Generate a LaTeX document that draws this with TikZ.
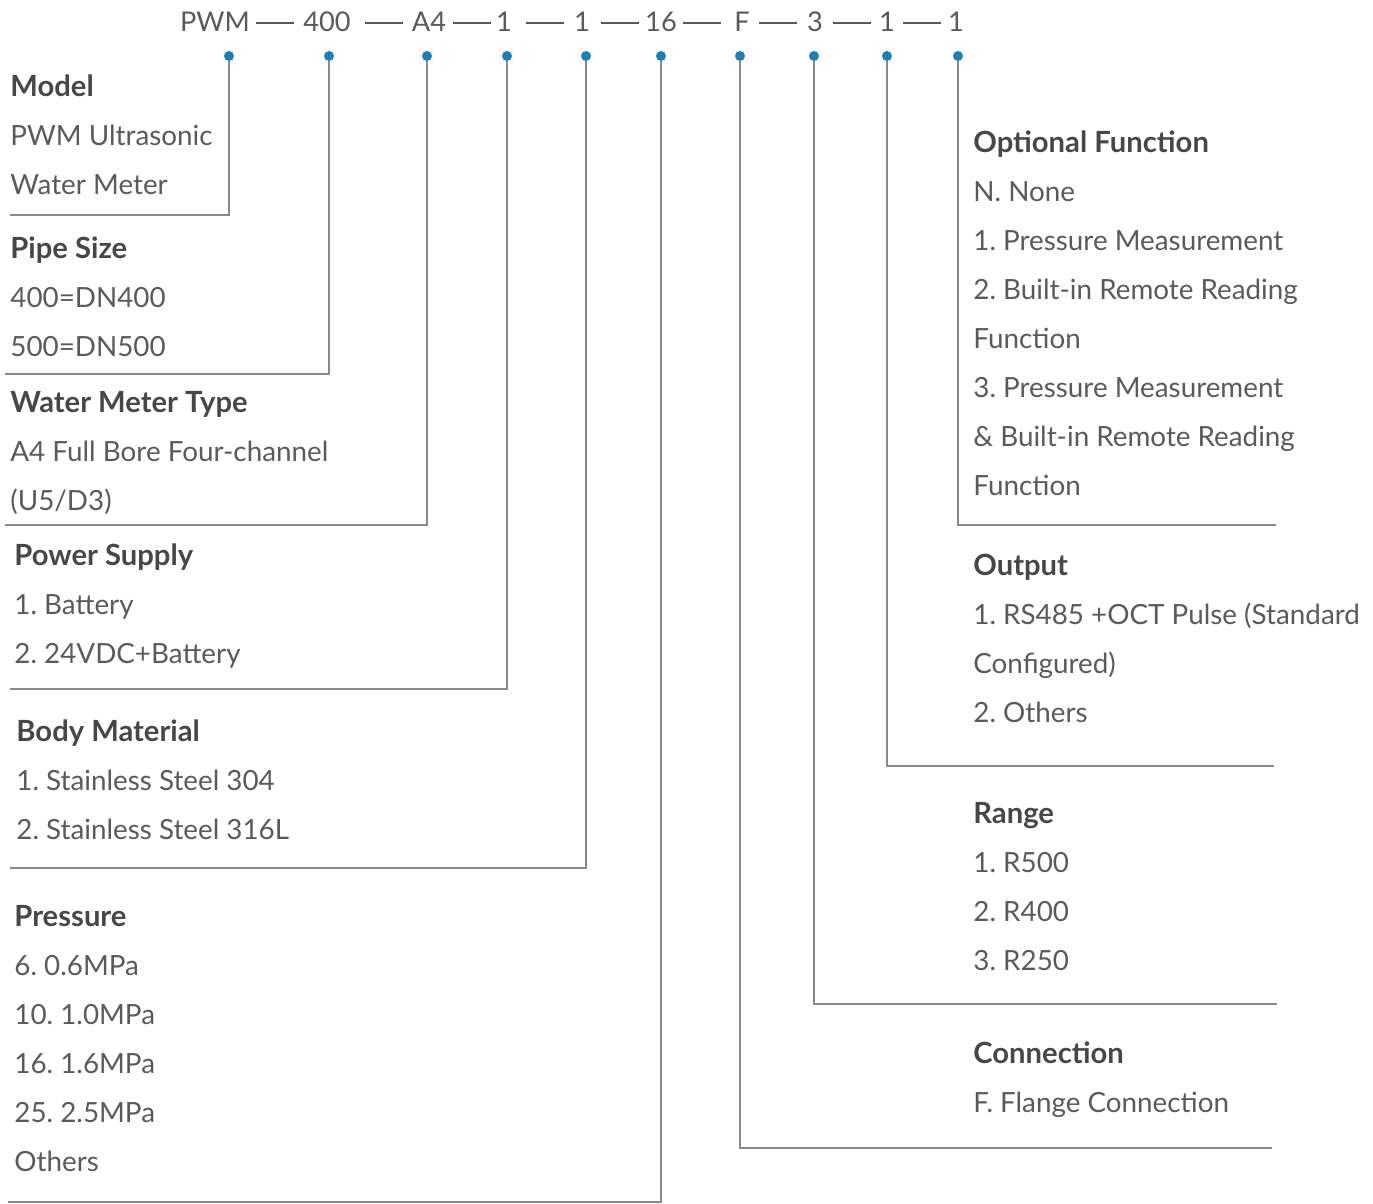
\documentclass[tikz,border=0pt]{standalone}
\usepackage{fontspec}
\setmainfont{Lato}
\usetikzlibrary{positioning}
\definecolor{txtgray}{HTML}{5A5A5A}
\definecolor{headgray}{HTML}{474747}
\definecolor{linegray}{HTML}{8A8A8A}
\definecolor{dotblue}{HTML}{1F7FB4}
\newcommand{\blockhead}[1]{{\color{headgray}\fontsize{14.6}{24.5}\selectfont\bfseries #1}}
\newcommand{\codedash}{\rule{19pt}{0.6pt}}
\frenchspacing

\begin{document}
\begin{tikzpicture}[
  x=0.5pt,y=-0.5pt,
  code/.style={font=\fontsize{13.6}{16}\selectfont,text=txtgray,inner sep=0pt},
  codesep/.style={text=txtgray,inner sep=0pt},
  dot/.style={circle,fill=dotblue,inner sep=0pt,minimum size=5pt},
  block/.style={align=left,anchor=north west,inner sep=0pt,text=txtgray,font=\fontsize{13.9}{24.5}\selectfont},
  lead/.style={draw=linegray,line width=0.8pt}
]
\useasboundingbox (0,0) rectangle (1373,1204);

% model code
\node[code] (cPWM) at (215,22) {PWM};
\node[codesep] (s1) at (275,23) {\codedash};
\node[code] (c400) at (327,22) {400};
\node[codesep] (s2) at (384,23) {\codedash};
\node[code] (cA4) at (429,22) {A4};
\node[codesep] (s3) at (472,23) {\codedash};
\node[code] (cPow) at (504,22) {1};
\node[codesep] (s4) at (545,23) {\codedash};
\node[code] (cMat) at (582,22) {1};
\node[codesep] (s5) at (620,23) {\codedash};
\node[code] (cPres) at (661,22) {16};
\node[codesep] (s6) at (702,23) {\codedash};
\node[code] (cConn) at (742,22) {F};
\node[codesep] (s7) at (778,23) {\codedash};
\node[code] (cRange) at (815,22) {3};
\node[codesep] (s8) at (852,23) {\codedash};
\node[code] (cOut) at (887,22) {1};
\node[codesep] (s9) at (922,23) {\codedash};
\node[code] (cOpt) at (956,22) {1};

\node[dot] (dPWM) at (229,56) {};
\node[dot] (d400) at (329,56) {};
\node[dot] (dA4) at (427,56) {};
\node[dot] (dPow) at (507,56) {};
\node[dot] (dMat) at (586,56) {};
\node[dot] (dPres) at (661,56) {};
\node[dot] (dConn) at (740,56) {};
\node[dot] (dRange) at (814,56) {};
\node[dot] (dOut) at (887,56) {};
\node[dot] (dOpt) at (958,56) {};

% left column
\node[block] (model) at (10,74) {\blockhead{Model}\\PWM Ultrasonic\\Water Meter};
\node[block] (pipe) at (10,236) {\blockhead{Pipe Size}\\400=DN400\\500=DN500};
\node[block] (type) at (10,391) {\blockhead{Water Meter Type}\\A4 Full Bore Four-channel\\(U5/D3)};
\node[block] (power) at (14,543) {\blockhead{Power Supply}\\1. Battery\\2. 24VDC+Battery};
\node[block] (material) at (16,719) {\blockhead{Body Material}\\1. Stainless Steel 304\\2. Stainless Steel 316L};
\node[block] (pressure) at (14,905) {\blockhead{Pressure}\\6. 0.6MPa\\10. 1.0MPa\\16. 1.6MPa\\25. 2.5MPa\\Others};

% right column
\node[block] (option) at (973,130) {\blockhead{Optional Function}\\N. None\\1. Pressure Measurement\\2. Built-in Remote Reading\\Function\\3. Pressure Measurement\\\& Built-in Remote Reading\\Function};
\node[block] (output) at (973,554) {\blockhead{Output}\\1. RS485 +OCT Pulse (Standard\\Configured)\\2. Others};
\node[block] (range) at (973,802) {\blockhead{Range}\\1. R500\\2. R400\\3. R250};
\node[block] (connection) at (973,1041) {\blockhead{Connection}\\F. Flange Connection};

\coordinate (eModel) at (10,215);
\coordinate (ePipe) at (5,374);
\coordinate (eType) at (5,525);
\coordinate (ePow) at (10,689);
\coordinate (eMat) at (10,868);
\coordinate (ePres) at (8,1202);
\coordinate (eConn) at (1272,1148);
\coordinate (eRange) at (1277,1004);
\coordinate (eOut) at (1274,766);
\coordinate (eOpt) at (1276,525);

\draw[lead] (dPWM.south) |- (eModel);
\draw[lead] (d400.south) |- (ePipe);
\draw[lead] (dA4.south) |- (eType);
\draw[lead] (dPow.south) |- (ePow);
\draw[lead] (dMat.south) |- (eMat);
\draw[lead] (dPres.south) |- (ePres);
\draw[lead] (dConn.south) |- (eConn);
\draw[lead] (dRange.south) |- (eRange);
\draw[lead] (dOut.south) |- (eOut);
\draw[lead] (dOpt.south) |- (eOpt);
\end{tikzpicture}
\end{document}
